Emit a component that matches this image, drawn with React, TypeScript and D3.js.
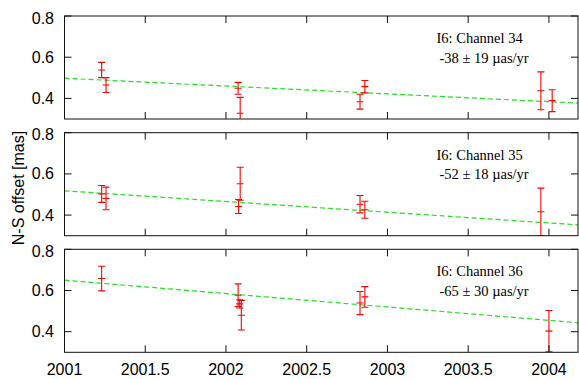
import React from "react";
import * as d3 from "d3";

const W = 579;
const H = 379;

const xTicks = [2001, 2001.5, 2002, 2002.5, 2003, 2003.5, 2004];
const yTicks = [0.4, 0.6, 0.8];

const ch34T = [2001.23, 2001.257, 2002.075, 2002.088, 2002.83, 2002.86, 2003.95, 2004.02];
const ch34V = [0.538, 0.465, 0.449, 0.328, 0.384, 0.457, 0.437, 0.389];
const ch34E = [0.037, 0.036, 0.029, 0.077, 0.036, 0.03, 0.092, 0.053];

const ch35T = [2001.23, 2001.257, 2002.078, 2002.088, 2002.83, 2002.86, 2003.95];
const ch35V = [0.503, 0.481, 0.442, 0.552, 0.453, 0.426, 0.416];
const ch35E = [0.041, 0.055, 0.034, 0.08, 0.042, 0.041, 0.115];

const ch36T = [2001.23, 2002.075, 2002.085, 2002.095, 2002.83, 2002.86, 2004.0];
const ch36V = [0.658, 0.577, 0.535, 0.48, 0.539, 0.569, 0.403];
const ch36E = [0.06, 0.055, 0.02, 0.072, 0.056, 0.05, 0.1];

const fitIntercepts = [0.498, 0.518, 0.65]; // value at 2001.0
const fitSlopes = [-0.038, -0.052, -0.065]; // mas/yr
const labels1 = ["I6: Channel 34", "I6: Channel 35", "I6: Channel 36"];
const labels2 = ["-38 \u00b1 19 \u00b5as/yr", "-52 \u00b1 18 \u00b5as/yr", "-65 \u00b1 30 \u00b5as/yr"];

const panels = [
  { t: ch34T, v: ch34V, e: ch34E },
  { t: ch35T, v: ch35V, e: ch35E },
  { t: ch36T, v: ch36V, e: ch36E },
];

const left = 64.5;
const right = 578;
const panelTops = [16, 132.7, 249.3];
const panelH = 103;

const x = d3.scaleLinear().domain([2001, 2004.18]).range([left, right]);

const sans = "'Liberation Sans', Arial, Helvetica, sans-serif";
const serif = "'Liberation Serif', 'Times New Roman', serif";

function Panel({ idx }: { idx: number }) {
  const top = panelTops[idx];
  const bottom = top + panelH;
  const y = d3.scaleLinear().domain([0.3, 0.8]).range([bottom, top]);
  const p = panels[idx];
  const clipId = `clip${idx}`;
  const x0 = 2001;
  const x1 = 2004.18;
  const fy = (t: number) => fitIntercepts[idx] + fitSlopes[idx] * (t - 2001);
  const tickLen = 7;
  const cap = 3.5;
  return (
    <g>
      <defs>
        <clipPath id={clipId}>
          <rect x={left} y={top} width={right - left} height={panelH} />
        </clipPath>
      </defs>
      <g clipPath={`url(#${clipId})`}>
        <line
          x1={x(x0)}
          y1={y(fy(x0))}
          x2={x(x1)}
          y2={y(fy(x1))}
          stroke="#22e022"
          strokeWidth={1.2}
          strokeDasharray="5,3"
        />
        {p.t.map((t, i) => {
          const cx = x(t);
          const cy = y(p.v[i]);
          const yt = y(p.v[i] + p.e[i]);
          const yb = y(p.v[i] - p.e[i]);
          return (
            <g key={i} stroke="#ff0000" strokeWidth={1.1}>
              <line x1={cx} x2={cx} y1={yt} y2={yb} />
              <line x1={cx - cap} x2={cx + cap} y1={yt} y2={yt} />
              <line x1={cx - cap} x2={cx + cap} y1={yb} y2={yb} />
              <line x1={cx - cap} x2={cx + cap} y1={cy} y2={cy} />
            </g>
          );
        })}
      </g>
      <g stroke="#111" strokeWidth={1}>
        {xTicks.map((t) => (
          <g key={t}>
            <line x1={x(t)} x2={x(t)} y1={bottom} y2={bottom - tickLen} />
            <line x1={x(t)} x2={x(t)} y1={top} y2={top + tickLen} />
          </g>
        ))}
        {yTicks.map((v) => (
          <g key={v}>
            <line x1={left} x2={left + tickLen} y1={y(v)} y2={y(v)} />
            <line x1={right} x2={right - tickLen} y1={y(v)} y2={y(v)} />
          </g>
        ))}
        <rect x={left} y={top} width={right - left} height={panelH} fill="none" />
      </g>
      {yTicks.map((v) => (
        <text
          key={v}
          x={54}
          y={y(v) + (v === 0.8 ? 2 : 0)}
          textAnchor="end"
          dominantBaseline="central"
          fontFamily={sans}
          fontSize={16}
          fill="#000"
        >
          {d3.format(".1f")(v)}
        </text>
      ))}
      <text x={436.5} y={top + 27} fontFamily={serif} fontSize={14.5} fill="#000">
        {labels1[idx]}
      </text>
      <text x={439.5} y={top + 46.5} fontFamily={serif} fontSize={14.5} fill="#000">
        {labels2[idx]}
      </text>
    </g>
  );
}

export default function App() {
  const lastBottom = panelTops[2] + panelH;
  return (
    <svg
      width={W}
      height={H}
      style={{ position: "absolute", left: 0, top: 0, background: "#fff" }}
    >
      <rect width={W} height={H} fill="#fff" />
      {[0, 1, 2].map((i) => (
        <Panel key={i} idx={i} />
      ))}
      {xTicks.map((t) => (
        <text
          key={t}
          x={x(t)}
          y={lastBottom + 23}
          textAnchor="middle"
          fontFamily={sans}
          fontSize={16}
          fill="#000"
        >
          {String(t)}
        </text>
      ))}
      <text
        transform={`translate(24,188) rotate(-90)`}
        textAnchor="middle"
        fontFamily={sans}
        fontSize={16}
        fill="#000"
      >
        N-S offset [mas]
      </text>
    </svg>
  );
}
